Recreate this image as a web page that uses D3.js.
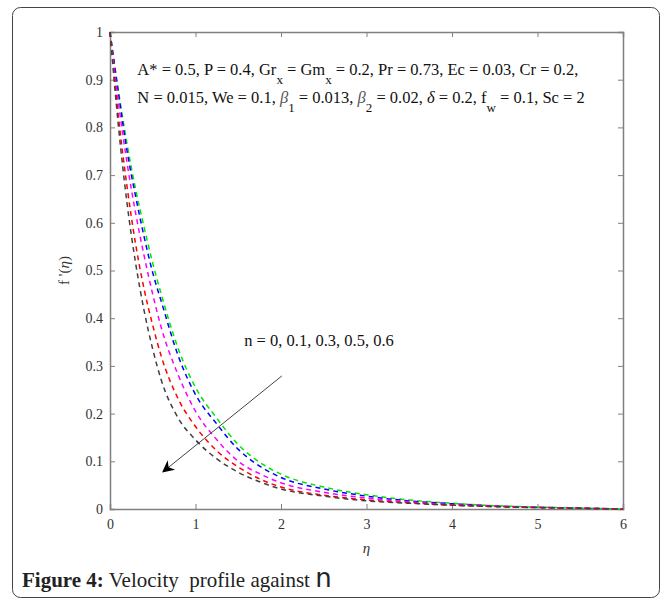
<!DOCTYPE html>
<html>
<head>
<meta charset="utf-8">
<script src="https://cdn.jsdelivr.net/npm/d3@7"></script>
<style>
  body { margin: 0; background: #fff; }
  svg { display: block; font-family: "Liberation Serif", "Times New Roman", serif; }
  .axis path, .axis line { stroke: #808080; }
  .axis text { fill: #333; font-size: 14px; font-family: "Liberation Serif", serif; }
</style>
</head>
<body>
<svg id="chart" width="671" height="602"></svg>
<script>
// eta grid (x values) shared by all curves
var eta = [0, 0.1, 0.2, 0.3, 0.4, 0.5, 0.6, 0.8, 1, 1.25, 1.5, 1.75, 2, 2.5, 3, 3.5, 4, 4.5, 5, 5.5, 6];

// f'(eta), one list per n
var fN0  = [1, 0.875, 0.765, 0.67, 0.59, 0.515, 0.45, 0.335, 0.255, 0.19, 0.135, 0.098, 0.073, 0.046, 0.030, 0.019, 0.012, 0.007, 0.004, 0.002, 0];
var fN01 = [1, 0.87, 0.75, 0.655, 0.57, 0.495, 0.435, 0.32, 0.24, 0.178, 0.125, 0.09, 0.066, 0.042, 0.027, 0.017, 0.011, 0.0065, 0.0037, 0.0018, 0];
var fN03 = [1, 0.85, 0.725, 0.62, 0.53, 0.45, 0.38, 0.28, 0.205, 0.145, 0.10, 0.074, 0.055, 0.035, 0.023, 0.015, 0.009, 0.006, 0.0035, 0.0017, 0];
var fN05 = [1, 0.82, 0.675, 0.555, 0.46, 0.385, 0.32, 0.23, 0.173, 0.122, 0.088, 0.063, 0.046, 0.029, 0.019, 0.013, 0.008, 0.005, 0.003, 0.0015, 0];
var fN06 = [1, 0.80, 0.64, 0.515, 0.415, 0.335, 0.27, 0.19, 0.145, 0.105, 0.077, 0.057, 0.042, 0.027, 0.017, 0.012, 0.008, 0.005, 0.003, 0.0015, 0];

var seriesNames = ['n = 0', 'n = 0.1', 'n = 0.3', 'n = 0.5', 'n = 0.6'];
var seriesColors = ['#00e600', '#0000ff', '#ff00ff', '#ff0000', '#404040'];
var seriesValues = [fN0, fN01, fN03, fN05, fN06];

var xTicks = [0, 1, 2, 3, 4, 5, 6];
var yTicks = [0, 0.1, 0.2, 0.3, 0.4, 0.5, 0.6, 0.7, 0.8, 0.9, 1];

var margin = { top: 32, right: 48, bottom: 93, left: 110 },
    width = 671 - margin.left - margin.right,
    height = 602 - margin.top - margin.bottom;

var svg = d3.select('#chart');

// outer frame around figure + caption
svg.append('rect')
    .attr('x', 12.5).attr('y', 7.5)
    .attr('width', 647).attr('height', 590)
    .attr('rx', 8).attr('ry', 8)
    .attr('fill', 'none')
    .attr('stroke', '#444')
    .attr('stroke-width', 1);

var g = svg.append('g')
    .attr('transform', 'translate(' + margin.left + ',' + margin.top + ')');

var x = d3.scaleLinear().domain([0, 6]).range([0, width]);
var y = d3.scaleLinear().domain([0, 1]).range([height, 0]);

// axes with inward ticks on all four sides
g.append('g')
    .attr('class', 'axis')
    .attr('transform', 'translate(0,' + height + ')')
    .call(d3.axisBottom(x).tickValues(xTicks).tickSize(-5).tickPadding(10).tickFormat(d3.format('~g')));

g.append('g')
    .attr('class', 'axis')
    .call(d3.axisLeft(y).tickValues(yTicks).tickSize(-5).tickPadding(7).tickFormat(d3.format('~g')));

g.append('g')
    .attr('class', 'axis')
    .call(d3.axisTop(x).tickValues(xTicks).tickSize(-5).tickFormat(''));

g.append('g')
    .attr('class', 'axis')
    .attr('transform', 'translate(' + width + ',0)')
    .call(d3.axisRight(y).tickValues(yTicks).tickSize(-5).tickFormat(''));

g.selectAll('.axis path').attr('stroke-width', 1.5);

// curves
var line = d3.line()
    .x(function(d) { return x(d[0]); })
    .y(function(d) { return y(d[1]); })
    .curve(d3.curveMonotoneX);

seriesValues.forEach(function(vals, i) {
    g.append('path')
        .datum(eta.map(function(e, j) { return [e, vals[j]]; }))
        .attr('fill', 'none')
        .attr('stroke', seriesColors[i])
        .attr('stroke-width', 1.5)
        .attr('stroke-dasharray', '5,4')
        .attr('d', line);
});

// parameter annotation
var ann = g.append('text')
    .attr('x', x(0.32)).attr('y', y(0.91))
    .attr('font-size', 16.5).attr('fill', '#111');
ann.append('tspan').text('A* = 0.5, P = 0.4, Gr');
ann.append('tspan').attr('dy', 9).attr('font-size', 13).text('x');
ann.append('tspan').attr('dy', -9).text(' = Gm');
ann.append('tspan').attr('dy', 9).attr('font-size', 13).text('x');
ann.append('tspan').attr('dy', -9).text(' = 0.2, Pr = 0.73, Ec = 0.03, Cr = 0.2,');

var ann2 = g.append('text')
    .attr('x', x(0.32)).attr('y', y(0.851))
    .attr('font-size', 16.5).attr('fill', '#111');
ann2.append('tspan').text('N = 0.015, We = 0.1, ');
ann2.append('tspan').attr('font-style', 'italic').attr('fill', '#555').text('β');
ann2.append('tspan').attr('dy', 9).attr('font-size', 13).text('1');
ann2.append('tspan').attr('dy', -9).text(' = 0.013, ');
ann2.append('tspan').attr('font-style', 'italic').attr('fill', '#555').text('β');
ann2.append('tspan').attr('dy', 9).attr('font-size', 13).text('2');
ann2.append('tspan').attr('dy', -9).text(' = 0.02, ');
ann2.append('tspan').attr('font-style', 'italic').text('δ');
ann2.append('tspan').text(' = 0.2, f');
ann2.append('tspan').attr('dy', 9).attr('font-size', 13).text('w');
ann2.append('tspan').attr('dy', -9).text(' = 0.1, Sc = 2');

// arrow showing increasing n
svg.append('defs').append('marker')
    .attr('id', 'arrowhead')
    .attr('viewBox', '0 0 10 10')
    .attr('refX', 9).attr('refY', 5)
    .attr('markerWidth', 16).attr('markerHeight', 12)
    .attr('markerUnits', 'userSpaceOnUse')
    .attr('orient', 'auto')
    .append('path')
    .attr('d', 'M0,0 L10,5 L0,10 L3,5 Z')
    .attr('fill', '#000');

g.append('line')
    .attr('x1', x(2.01)).attr('y1', y(0.279))
    .attr('x2', x(0.62)).attr('y2', y(0.078))
    .attr('stroke', '#444')
    .attr('stroke-width', 1)
    .attr('marker-end', 'url(#arrowhead)');

g.append('text')
    .attr('x', x(1.57)).attr('y', y(0.342))
    .attr('font-size', 16.5).attr('fill', '#111')
    .text('n = 0, 0.1, 0.3, 0.5, 0.6');

// axis labels
var yl = g.append('text')
    .attr('transform', 'translate(' + (-41) + ',' + y(0.5) + ') rotate(-90)')
    .attr('text-anchor', 'middle')
    .attr('font-size', 15).attr('fill', '#333');
yl.append('tspan').text("f '(");
yl.append('tspan').attr('font-style', 'italic').text('η');
yl.append('tspan').text(')');

g.append('text')
    .attr('x', x(3)).attr('y', height + 44)
    .attr('text-anchor', 'middle')
    .attr('font-size', 15).attr('font-style', 'italic').attr('fill', '#333')
    .text('η');

// caption
var cap = svg.append('text')
    .attr('x', 22).attr('y', 587)
    .attr('font-size', 21).attr('fill', '#222');
cap.append('tspan').attr('font-weight', 'bold').text('Figure 4:');
cap.append('tspan').text(' Velocity\u00a0 profile against ');
cap.append('tspan').attr('font-family', '"DejaVu Sans", sans-serif').attr('font-size', 26).text('n');
</script>
</body>
</html>
